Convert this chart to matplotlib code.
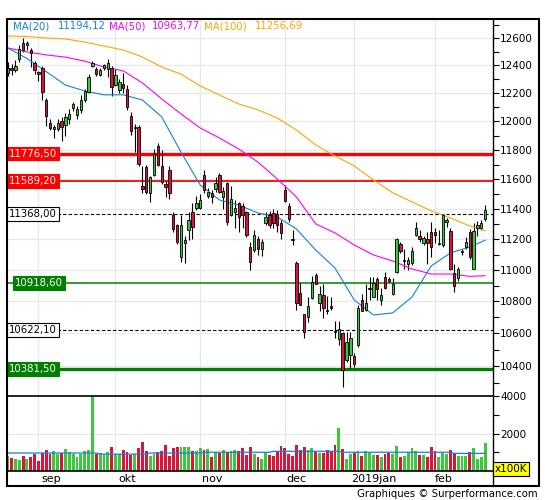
import matplotlib
matplotlib.use("Agg")
import matplotlib.pyplot as plt
import matplotlib.transforms as mtransforms
from matplotlib.ticker import FixedLocator, FixedFormatter, NullFormatter
from matplotlib.patches import Rectangle
from matplotlib.lines import Line2D

plt.rcParams['font.family'] = ['DejaVu Sans']

# daily candles (late aug 2018 -> feb 2019)
opens = [12345, 12380, 12370, 12444, 12565, 12545, 12512, 12420, 12350, 12380,
         12150, 11990, 11950, 11945, 12005, 11975, 12020, 12095, 12045, 12080,
         12150, 12210, 12398, 12372, 12330, 12381, 12372, 12381, 12260, 12219,
         12267, 12230, 12038, 11955, 11963, 11555, 11687, 11510, 11627, 11829,
         11690, 11570, 11664, 11361, 11294, 11088, 11174, 11261, 11383, 11405,
         11405, 11630, 11488, 11510, 11532, 11630, 11480, 11578, 11361, 11383,
         11439, 11421, 11383, 11150, 11130, 11200, 11140, 11306, 11361, 11372,
         11368, 11306, 11528, 11421, 11205, 11048, 10856, 10722, 10700, 10820,
         10970, 10793, 10842, 10745, 10772, 10617, 10563, 10600, 10436, 10467,
         10461, 10528, 10810, 10747, 10877, 10830, 10944, 10810, 10957, 10944,
         10850, 10987, 11169, 11058, 11041, 11048, 11228, 11222, 11179, 11203,
         11250, 11250, 11169, 11163, 11317, 11255, 10983, 10950, 11116, 11150,
         11250, 11010, 11272, 11272, 11332]
highs = [12425, 12410, 12440, 12545, 12600, 12580, 12525, 12435, 12360, 12395,
         12165, 12020, 11975, 12015, 12030, 12060, 12090, 12140, 12110, 12190,
         12230, 12340, 12430, 12385, 12380, 12410, 12445, 12394, 12372, 12300,
         12345, 12260, 12065, 11980, 11975, 11690, 11700, 11625, 11810, 11850,
         11800, 11590, 11690, 11380, 11300, 11361, 11222, 11383, 11443, 11488,
         11503, 11662, 11539, 11528, 11614, 11643, 11550, 11585, 11555, 11461,
         11450, 11439, 11390, 11185, 11260, 11225, 11200, 11383, 11390, 11399,
         11394, 11328, 11562, 11439, 11261, 11062, 10918, 10715, 10830, 10962,
         10983, 10901, 10908, 10835, 10830, 10676, 10676, 10612, 10612, 10612,
         10477, 10778, 10846, 10908, 10957, 10957, 10957, 10883, 10990, 10957,
         10950, 11207, 11185, 11137, 11088, 11148, 11317, 11261, 11222, 11250,
         11317, 11272, 11261, 11368, 11339, 11272, 11040, 11020, 11140, 11215,
         11265, 11306, 11320, 11330, 11427]
lows = [12324, 12330, 12350, 12425, 12500, 12515, 12390, 12340, 12290, 12150,
        11965, 11940, 11885, 11930, 11860, 11900, 11985, 12070, 12020, 12060,
        12140, 12200, 12388, 12325, 12320, 12370, 12319, 12180, 12250, 12200,
        12199, 12080, 11905, 11790, 11690, 11510, 11500, 11450, 11620, 11690,
        11570, 11483, 11470, 11250, 11170, 11055, 11048, 11196, 11200, 11394,
        11400, 11510, 11471, 11441, 11517, 11508, 11400, 11294, 11354, 11272,
        11250, 11272, 11213, 11001, 11115, 11100, 11090, 11294, 11272, 11272,
        11250, 11200, 11450, 11317, 11163, 10747, 10778, 10573, 10672, 10815,
        10908, 10737, 10695, 10722, 10745, 10570, 10529, 10272, 10426, 10386,
        10396, 10518, 10737, 10743, 10810, 10828, 10810, 10778, 10877, 10925,
        10843, 10983, 11109, 11010, 11001, 11034, 11220, 11185, 11165, 11041,
        11088, 11175, 11163, 11150, 11283, 11001, 10860, 10928, 11100, 11140,
        11075, 11010, 11220, 11260, 11323]
closes = [12381, 12365, 12394, 12520, 12512, 12560, 12490, 12364, 12340, 12210,
          12040, 11955, 11960, 11986, 11960, 12030, 12050, 12120, 12090, 12150,
          12215, 12317, 12419, 12340, 12367, 12400, 12419, 12245, 12330, 12280,
          12238, 12102, 11935, 11963, 11705, 11533, 11516, 11614, 11772, 11698,
          11585, 11548, 11510, 11266, 11185, 11294, 11196, 11328, 11280, 11441,
          11461, 11528, 11517, 11480, 11573, 11517, 11523, 11317, 11466, 11405,
          11350, 11361, 11228, 11055, 11228, 11140, 11185, 11350, 11294, 11306,
          11294, 11244, 11456, 11332, 11196, 10793, 10778, 10612, 10772, 10922,
          10912, 10850, 10757, 10737, 10760, 10606, 10627, 10376, 10550, 10570,
          10412, 10757, 10743, 10793, 10883, 10918, 10877, 10842, 10883, 10928,
          10908, 11200, 11126, 11068, 11066, 11126, 11272, 11200, 11207, 11179,
          11150, 11228, 11179, 11361, 11328, 11010, 10899, 11008, 11121, 11180,
          11088, 11255, 11294, 11306, 11394]
volumes = [810, 680, 630, 570, 810, 630, 770, 920, 530, 960,
           1140, 920, 1070, 900, 960, 1180, 1010, 920, 740, 920,
           1050, 1140, 3960, 920, 960, 920, 1030, 1290, 920, 920,
           1140, 1000, 880, 920, 1240, 1570, 1070, 810, 920, 1010,
           1070, 1400, 810, 1240, 1290, 1290, 1290, 1290, 1070, 1070,
           1240, 1140, 1180, 740, 1000, 960, 1120, 1030, 1070, 1120,
           1070, 1240, 870, 1290, 920, 740, 660, 1030, 870, 810,
           1050, 1360, 1220, 920, 810, 1400, 1140, 1290, 1140, 1240,
           1030, 960, 960, 1120, 1070, 1400, 2290, 1180, 630, 920,
           960, 1070, 810, 1070, 1030, 870, 870, 740, 920, 960,
           920, 1360, 770, 810, 1000, 1240, 1070, 870, 870, 770,
           1290, 1070, 740, 960, 920, 1140, 960, 810, 810, 810,
           1000, 1240, 630, 740, 1510]

# moving averages read at every 5th candle
ma_idx = [0, 5, 10, 15, 20, 25, 30, 35, 40, 45, 50, 55, 60, 65, 70, 75, 80,
          85, 90, 95, 100, 105, 110, 115, 120, 124]
ma20 = [12527, 12450, 12355, 12258, 12216, 12188, 12188, 12151, 12032, 11787,
        11562, 11461, 11427, 11374, 11348, 11268, 11130, 11014, 10810, 10715,
        10728, 10828, 11027, 11111, 11150, 11194]
ma50 = [12527, 12498, 12476, 12460, 12431, 12388, 12360, 12273, 12159, 12053,
        11954, 11884, 11808, 11718, 11603, 11481, 11302, 11242, 11163, 11098,
        11059, 11008, 10975, 10975, 10960, 10964]
ma100 = [12615, 12611, 12600, 12593, 12570, 12541, 12512, 12461, 12388, 12337,
         12251, 12187, 12123, 12081, 12024, 11940, 11836, 11760, 11692, 11596,
         11509, 11448, 11388, 11341, 11288, 11257]
vol_ma_idx = [0, 23, 24, 36, 37, 50, 51, 68, 69, 86, 87, 110, 111, 115, 116, 124]
vol_ma = [960, 960, 900, 900, 960, 960, 1000, 1000, 1050, 1050, 1000, 1000,
          1000, 1000, 940, 940]

levels = [11776.5, 11589.2, 11368.0, 10918.6, 10622.1, 10381.5]
level_text = ['11776,50', '11589,20', '11368,00', '10918,60', '10622,10', '10381,50']
level_col = ['#ff0000', '#ff0000', 'black', '#008000', 'black', '#008000']
level_lw = [2.4, 1.3, 0.8, 1.1, 0.8, 2.4]

month_idx = [8, 28, 50, 72, 90, 111]
month_lab = ['sep', 'okt', 'nov', 'dec', '2019jan', 'feb']
month_px = [41, 118, 202, 286, 351, 435]

price_ticks = [10400, 10600, 10800, 11000, 11200, 11400, 11600, 11800, 12000,
               12200, 12400, 12600]

UP = '#3cc83c'
DN = '#dc143c'
BLUE = '#1482dc'
MAG = '#ff00ff'
ORA = '#ffa500'
GRID = '#e8e8e8'

W, H = 545, 500
fig = plt.figure(figsize=(W / 100, H / 100), dpi=100)


def box(l, t, r, b):
    return [l / W, 1 - b / H, (r - l) / W, (b - t) / H]


axp = fig.add_axes(box(7, 19, 493, 396))
axv = fig.add_axes(box(7, 396, 493, 471), sharex=axp)

n = len(closes)
xs = list(range(n))
cols = [UP if c >= o else DN for o, c in zip(opens, closes)]

# price panel
axp.set_yscale('log')
axp.set_ylim(10219, 12741)
axp.set_xlim(-0.18, 126.05)
for m in month_idx:
    axp.axvline(m, color=GRID, lw=0.9, zorder=0)
    axv.axvline(m, color=GRID, lw=0.9, zorder=0)
for p in price_ticks:
    axp.axhline(p, color=GRID, lw=0.9, zorder=0)

for lv, c, lw in zip(levels, level_col, level_lw):
    ls = '--' if c == 'black' else '-'
    axp.axhline(lv, color=c, lw=lw, ls=ls, dashes=(3, 2) if ls == '--' else (None, None),
                zorder=1.5)

axp.vlines(xs, lows, highs, color='black', lw=0.8, zorder=2)
bottoms = [min(o, c) for o, c in zip(opens, closes)]
heights = [max(abs(c - o), 4) for o, c in zip(opens, closes)]
axp.bar(xs, heights, bottom=bottoms, width=0.62, color=cols, edgecolor='black',
        linewidth=0.6, zorder=3)

axp.plot(ma_idx, ma100, color=ORA, lw=0.8, zorder=2.5)
axp.plot(ma_idx, ma50, color=MAG, lw=0.8, zorder=2.5)
axp.plot(ma_idx, ma20, color=BLUE, lw=0.8, zorder=2.5)

trans = mtransforms.blended_transform_factory(axp.transAxes, axp.transData)
for lv, t, c in zip(levels, level_text, level_col):
    if c == 'black':
        fc, tc, ec = 'white', 'black', 'black'
    else:
        fc, tc, ec = c, 'white', c
    xoff = 0.016 if t == '10918,60' else 0.004
    axp.text(xoff, lv, t, transform=trans, ha='left', va='center', fontsize=7.3,
             color=tc, zorder=5,
             bbox=dict(boxstyle='square,pad=0.18', fc=fc, ec=ec, lw=0.8))

axp.yaxis.tick_right()
axp.yaxis.set_major_locator(FixedLocator(price_ticks))
axp.yaxis.set_major_formatter(FixedFormatter([str(p) for p in price_ticks]))
minor = [p for p in range(10300, 12800, 100) if p not in price_ticks]
axp.yaxis.set_minor_locator(FixedLocator(minor))
axp.yaxis.set_minor_formatter(NullFormatter())
axp.tick_params(axis='y', which='both', direction='out', length=4, width=0.8,
                pad=1, labelsize=7.5, right=True, left=False)
axp.tick_params(axis='x', which='both', bottom=False, labelbottom=False)
for s in axp.spines.values():
    s.set_visible(False)

# volume panel
axv.set_ylim(0, 4000)
axv.axhline(2000, color=GRID, lw=0.9, zorder=0)
axv.bar(xs, volumes, width=0.75, color=cols, linewidth=0, zorder=2)
axv.plot(vol_ma_idx, vol_ma, color=BLUE, lw=0.9, zorder=3)
axv.yaxis.tick_right()
axv.yaxis.set_major_locator(FixedLocator([2000, 4000]))
axv.yaxis.set_major_formatter(FixedFormatter(['2000', '4000']))
axv.yaxis.set_minor_locator(FixedLocator([1000, 3000]))
axv.tick_params(axis='y', which='both', direction='out', length=4, width=0.8,
                pad=1, labelsize=7.5, right=True, left=False)
axv.tick_params(axis='x', which='both', bottom=False, labelbottom=False)
for s in axv.spines.values():
    s.set_visible(False)

# frame and separators
fig.add_artist(Rectangle((7 / W, 1 - 486 / H), 532 / W, 467 / H, transform=fig.transFigure,
                         fill=False, ec='black', lw=1.5))
for yy in (396, 471):
    fig.add_artist(Line2D([7 / W, 493 / W], [1 - yy / H] * 2, color='black', lw=1.2))
fig.add_artist(Line2D([493 / W] * 2, [1 - 19 / H, 1 - 486 / H], color='black', lw=1.0))

for lab, x in zip(month_lab, month_px):
    fig.text(x / W, 1 - 478.5 / H, lab, ha='left', va='center', fontsize=8)

fig.text(495 / W, 1 - 469 / H, 'x100K', ha='left', va='center', fontsize=7.5,
         bbox=dict(boxstyle='square,pad=0.15', fc='#ffff00', ec='black', lw=0.8))

# legend line on top
legend = [(13, 'MA(20)', BLUE), (58, '11194,12', BLUE), (109, 'MA(50)', MAG),
          (152, '10963,77', MAG), (204, 'MA(100)', ORA), (255, '11256,69', ORA)]
for x, t, c in legend:
    fig.text(x / W, 1 - 26.5 / H, t, ha='left', va='center', fontsize=7.3, color=c)

fig.text(538 / W, 1 - 494 / H, 'Graphiques \u00a9 Surperformance.com', ha='right',
         va='center', fontsize=7.3)

fig.savefig('out.png', dpi=100)
